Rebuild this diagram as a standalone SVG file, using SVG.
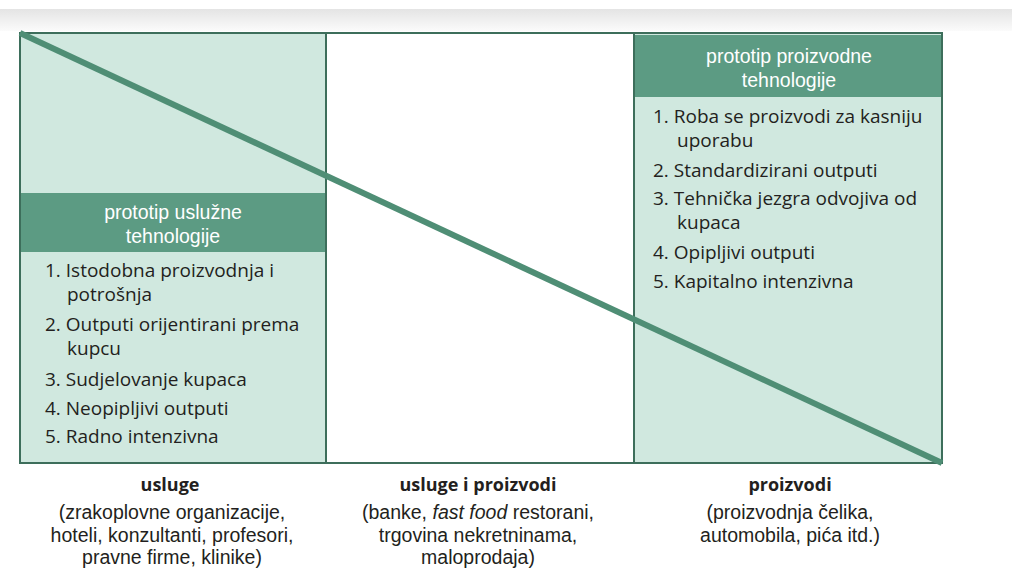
<svg xmlns="http://www.w3.org/2000/svg" width="1012" height="579" viewBox="0 0 1012 579">
<defs>
<linearGradient id="topband" x1="0" y1="0" x2="0" y2="1">
<stop offset="0" stop-color="#e4e4e4"/>
<stop offset="1" stop-color="#fbfbfb"/>
</linearGradient>
</defs>
<style>
.fill{fill:#d0e8df;}
.band{fill:#5c9b83;}
.frame{fill:none;stroke:#3d6e5b;stroke-width:2;}
.hdr{font-family:"Liberation Sans",Arial,sans-serif;font-size:19.5px;fill:#ffffff;text-anchor:middle;}
.item{font-family:"Open Sans","Noto Sans",sans-serif;font-size:19px;fill:#231f20;}
.lbl{font-family:"Open Sans","Noto Sans",sans-serif;font-size:18px;font-weight:700;fill:#231f20;text-anchor:middle;}
.sub{font-family:"Liberation Sans",Arial,sans-serif;font-size:19.5px;fill:#231f20;text-anchor:middle;}
.diag{stroke:#4f8e75;stroke-width:6;stroke-linecap:butt;fill:none;}
</style>
<rect x="0" y="0" width="1012" height="579" fill="#ffffff"/>
<rect x="0" y="9" width="1012" height="22" fill="url(#topband)"/>
<g id="services">
<rect class="fill" x="20" y="33" width="306" height="430"/>
<rect class="band" x="20" y="193" width="306" height="59"/>
<text class="hdr" x="173" y="219">prototip uslužne</text>
<text class="hdr" x="173" y="243">tehnologije</text>
<text class="item" x="45" y="277">1. Istodobna proizvodnja i</text>
<text class="item" x="67" y="301">potrošnja</text>
<text class="item" x="45" y="331">2. Outputi orijentirani prema</text>
<text class="item" x="67" y="355">kupcu</text>
<text class="item" x="45" y="386">3. Sudjelovanje kupaca</text>
<text class="item" x="45" y="415">4. Neopipljivi outputi</text>
<text class="item" x="45" y="443">5. Radno intenzivna</text>
</g>
<g id="mixed">
<rect x="326" y="33" width="308" height="430" fill="#ffffff"/>
</g>
<g id="products">
<rect class="fill" x="634" y="33" width="308" height="430"/>
<rect class="band" x="634" y="35" width="308" height="62"/>
<text class="hdr" x="789" y="63">prototip proizvodne</text>
<text class="hdr" x="789" y="87">tehnologije</text>
<text class="item" x="653" y="123">1. Roba se proizvodi za kasniju</text>
<text class="item" x="677" y="147">uporabu</text>
<text class="item" x="653" y="177">2. Standardizirani outputi</text>
<text class="item" x="653" y="205">3. Tehnička jezgra odvojiva od</text>
<text class="item" x="677" y="229">kupaca</text>
<text class="item" x="653" y="259">4. Opipljivi outputi</text>
<text class="item" x="653" y="288">5. Kapitalno intenzivna</text>
</g>
<g id="grid">
<rect class="frame" x="20" y="33" width="922" height="430"/>
<line class="frame" x1="326" y1="33" x2="326" y2="463"/>
<line class="frame" x1="634" y1="33" x2="634" y2="463"/>
</g>
<g id="connectors">
<line class="diag" x1="20" y1="33" x2="942" y2="463"/>
</g>
<g id="label-usluge">
<text class="lbl" x="170" y="491">usluge</text>
<text class="sub" x="172" y="519">(zrakoplovne organizacije,</text>
<text class="sub" x="172" y="541.5">hoteli, konzultanti, profesori,</text>
<text class="sub" x="172" y="564">pravne firme, klinike)</text>
</g>
<g id="label-mixed">
<text class="lbl" x="478" y="491">usluge i proizvodi</text>
<text class="sub" x="478" y="519">(banke, <tspan font-style="italic">fast food</tspan> restorani,</text>
<text class="sub" x="478" y="541.5">trgovina nekretninama,</text>
<text class="sub" x="478" y="564">maloprodaja)</text>
</g>
<g id="label-proizvodi">
<text class="lbl" x="790" y="491">proizvodi</text>
<text class="sub" x="790" y="519">(proizvodnja čelika,</text>
<text class="sub" x="790" y="541.5">automobila, pića itd.)</text>
</g>
</svg>
